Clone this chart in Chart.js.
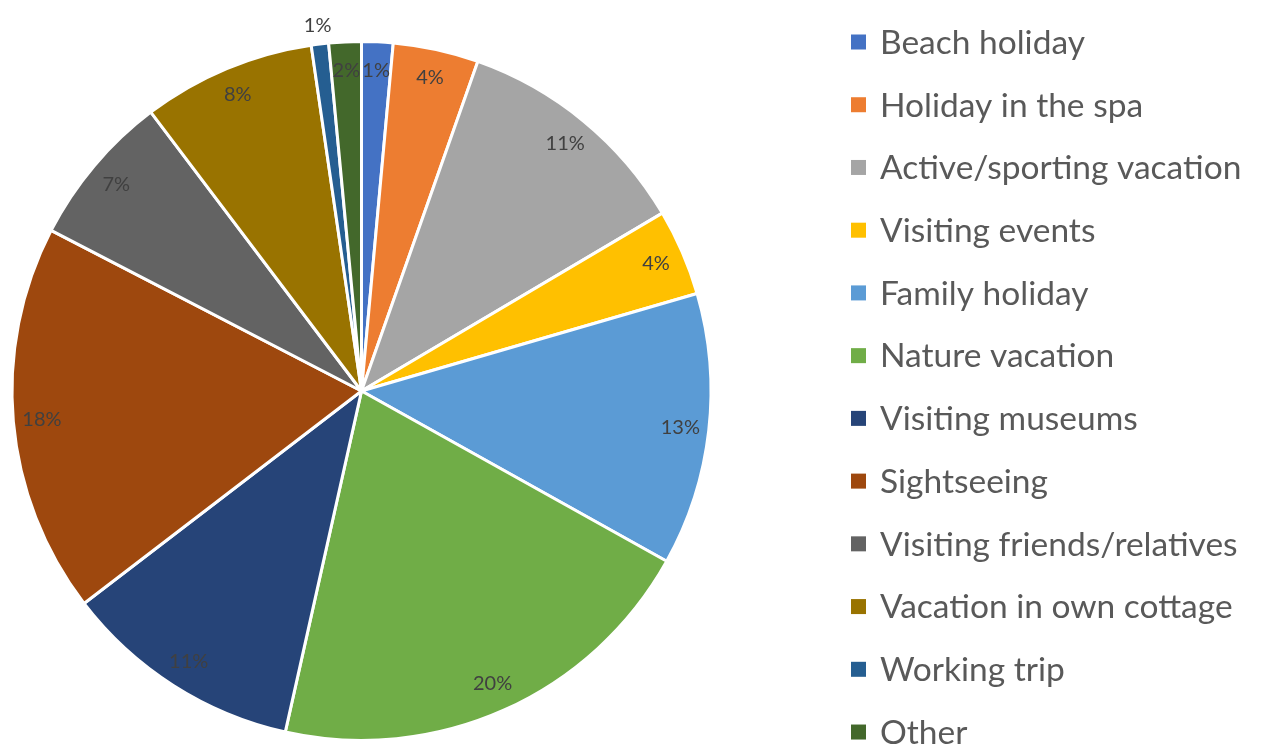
<!DOCTYPE html>
<html>
<head>
<meta charset="utf-8">
<script src="https://cdn.jsdelivr.net/npm/chart.js@4"></script>
<style>
  html, body { margin: 0; padding: 0; background: #ffffff; }
  #wrap { width: 1269px; height: 749px; position: relative; }
</style>
</head>
<body>
<div id="wrap"><canvas id="c" width="1269" height="749"></canvas></div>
<script>
const categories = [
  "Beach holiday",
  "Holiday in the spa",
  "Active/sporting vacation",
  "Visiting events",
  "Family holiday",
  "Nature vacation",
  "Visiting museums",
  "Sightseeing",
  "Visiting friends/relatives",
  "Vacation in own cottage",
  "Working trip",
  "Other"
];
const shares = [1.45, 3.95, 11.1, 4.0, 12.6, 20.4, 11.1, 18.0, 7.1, 8.0, 0.8, 1.5];
const colors = [
  "#4472C4", "#ED7D31", "#A5A5A5", "#FFC000", "#5B9BD5", "#70AD47",
  "#264478", "#9E480E", "#636363", "#997300", "#255E91", "#43682B"
];

const FONT = "Lato, 'Open Sans', 'DejaVu Sans', sans-serif";

const sliceLabels = {
  id: "sliceLabels",
  afterDatasetsDraw(chart) {
    const ctx = chart.ctx;
    const meta = chart.getDatasetMeta(0);
    const vals = chart.data.datasets[0].data;
    ctx.save();
    ctx.font = "20px " + FONT;
    ctx.fillStyle = "#404040";
    ctx.textAlign = "center";
    ctx.textBaseline = "middle";
    meta.data.forEach((arc, i) => {
      const p = arc.getProps(["x", "y", "startAngle", "endAngle", "outerRadius"], true);
      const mid = (p.startAngle + p.endAngle) / 2;
      const r = vals[i] < 1 ? p.outerRadius + 19 : p.outerRadius * 0.918;
      ctx.fillText(Math.round(vals[i]) + "%", p.x + Math.cos(mid) * r, p.y + Math.sin(mid) * r);
    });
    ctx.restore();
  }
};

const sideLegend = {
  id: "sideLegend",
  afterDraw(chart) {
    const ctx = chart.ctx;
    const labels = chart.data.labels;
    const bg = chart.data.datasets[0].backgroundColor;
    const top = 42, step = 62.73, boxX = 851, box = 15, textX = 880;
    ctx.save();
    ctx.font = "33.5px " + FONT;
    ctx.textAlign = "left";
    ctx.textBaseline = "middle";
    labels.forEach((lab, i) => {
      const y = top + i * step;
      ctx.fillStyle = bg[i];
      ctx.fillRect(boxX, y - box / 2, box, box);
      ctx.fillStyle = "#595959";
      ctx.fillText(lab, textX, y + 1);
    });
    ctx.restore();
  }
};

new Chart(document.getElementById("c"), {
  type: "pie",
  data: {
    labels: categories,
    datasets: [{
      data: shares,
      backgroundColor: colors,
      borderColor: "#ffffff",
      borderWidth: 3
    }]
  },
  options: {
    responsive: false,
    animation: false,
    layout: { padding: { left: 10, top: 40, right: 556, bottom: 7 } },
    plugins: {
      legend: { display: false },
      tooltip: { enabled: false }
    }
  },
  plugins: [sliceLabels, sideLegend]
});
</script>
</body>
</html>
